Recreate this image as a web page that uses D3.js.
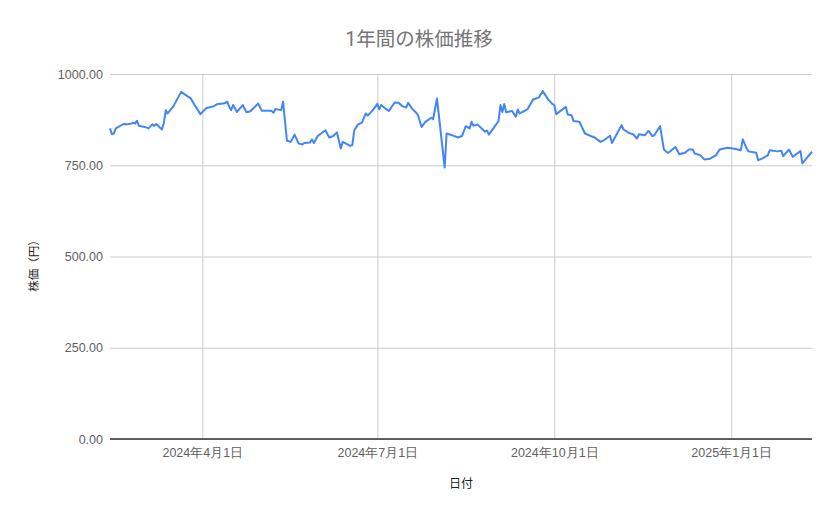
<!DOCTYPE html>
<html>
<head>
<meta charset="utf-8">
<script src="https://cdn.jsdelivr.net/npm/d3@7"></script>
<style>
	body { margin: 0; background: #ffffff; }
	svg { font-family: Roboto, "Noto Sans CJK JP", sans-serif; }
	.grid line { stroke: #cccccc; stroke-width: 1; }
	.grid path { display: none; }
	.tick-labels text { fill: #616161; }
</style>
</head>
<body>
<svg width="839" height="519"></svg>
<script>
// Chart data
const chart_title = "1年間の株価推移";
const x_title = "日付";
const y_title = "株価（円）";

const trade_dates = [
	"2024-02-13", "2024-02-14", "2024-02-15", "2024-02-16", "2024-02-20", "2024-02-22",
	"2024-02-25", "2024-02-26", "2024-02-27", "2024-02-28", "2024-03-02", "2024-03-04",
	"2024-03-06", "2024-03-07", "2024-03-08", "2024-03-11", "2024-03-12", "2024-03-13",
	"2024-03-14", "2024-03-17", "2024-03-21", "2024-03-24", "2024-03-26", "2024-03-28",
	"2024-03-31", "2024-04-03", "2024-04-07", "2024-04-09", "2024-04-12", "2024-04-14",
	"2024-04-15", "2024-04-16", "2024-04-17", "2024-04-19", "2024-04-22", "2024-04-24",
	"2024-04-26", "2024-04-30", "2024-05-02", "2024-05-07", "2024-05-08", "2024-05-09",
	"2024-05-12", "2024-05-13", "2024-05-15", "2024-05-17", "2024-05-19", "2024-05-21",
	"2024-05-23", "2024-05-24", "2024-05-27", "2024-05-28", "2024-05-29", "2024-05-31",
	"2024-06-04", "2024-06-06", "2024-06-08", "2024-06-10", "2024-06-12", "2024-06-13",
	"2024-06-17", "2024-06-18", "2024-06-19", "2024-06-21", "2024-06-23", "2024-06-25",
	"2024-06-26", "2024-06-29", "2024-07-01", "2024-07-02", "2024-07-03", "2024-07-05",
	"2024-07-07", "2024-07-10", "2024-07-12", "2024-07-14", "2024-07-16", "2024-07-17",
	"2024-07-19", "2024-07-22", "2024-07-24", "2024-07-26", "2024-07-29", "2024-07-30",
	"2024-08-01", "2024-08-05", "2024-08-06", "2024-08-09", "2024-08-12", "2024-08-14",
	"2024-08-16", "2024-08-18", "2024-08-19", "2024-08-20", "2024-08-22", "2024-08-26",
	"2024-08-27", "2024-08-28", "2024-09-02", "2024-09-03", "2024-09-04", "2024-09-05",
	"2024-09-06", "2024-09-09", "2024-09-11", "2024-09-12", "2024-09-13", "2024-09-17",
	"2024-09-20", "2024-09-23", "2024-09-25", "2024-09-28", "2024-09-30", "2024-10-01",
	"2024-10-02", "2024-10-07", "2024-10-08", "2024-10-10", "2024-10-11", "2024-10-14",
	"2024-10-17", "2024-10-20", "2024-10-22", "2024-10-25", "2024-10-27", "2024-10-30",
	"2024-10-31", "2024-11-05", "2024-11-06", "2024-11-09", "2024-11-11", "2024-11-13",
	"2024-11-14", "2024-11-17", "2024-11-19", "2024-11-21", "2024-11-22", "2024-11-25",
	"2024-11-27", "2024-11-29", "2024-11-30", "2024-12-03", "2024-12-05", "2024-12-08",
	"2024-12-10", "2024-12-12", "2024-12-13", "2024-12-16", "2024-12-18", "2024-12-21",
	"2024-12-24", "2024-12-26", "2024-12-30", "2025-01-02", "2025-01-06", "2025-01-07",
	"2025-01-09", "2025-01-10", "2025-01-14", "2025-01-15", "2025-01-17", "2025-01-20",
	"2025-01-21", "2025-01-25", "2025-01-27", "2025-01-28", "2025-01-31", "2025-02-02",
	"2025-02-06", "2025-02-07", "2025-02-09", "2025-02-12"
];

const close_prices = [
	851, 835, 837, 851, 863, 862,
	866, 864, 872, 858, 855, 851,
	862, 858, 863, 848, 866, 901,
	892, 912, 951, 940, 933, 915,
	890, 906, 912, 918, 919, 924,
	910, 901, 915, 896, 915, 895,
	898, 919, 899, 899, 894, 904,
	901, 924, 817, 814, 834, 810,
	807, 811, 812, 821, 811, 830,
	846, 826, 830, 840, 796, 814,
	803, 805, 846, 862, 867, 892,
	886, 903, 918, 903, 915, 906,
	899, 922, 921, 912, 908, 921,
	906, 889, 855, 869, 880, 876,
	933, 744, 837, 832, 826, 830,
	857, 851, 869, 858, 862, 842,
	845, 834, 871, 915, 896, 918,
	895, 899, 883, 903, 892, 903,
	930, 936, 953, 929, 918, 915,
	890, 910, 889, 887, 871, 869,
	837, 830, 826, 814, 819, 831,
	811, 860, 848, 838, 835, 823,
	835, 832, 844, 830, 832, 857,
	793, 784, 787, 800, 780, 784,
	793, 793, 782, 777, 766, 768,
	777, 793, 798, 796, 791, 821,
	796, 788, 784, 764, 768, 777,
	791, 788, 790, 775, 793, 773,
	789, 755, 768, 787
];

const y_ticks = [0, 250, 500, 750, 1000];
const x_ticks = ["2024-04-01", "2024-07-01", "2024-10-01", "2025-01-01"];

// Variable Declarations
const svg = d3.select("svg");
const margin = {top: 74, right: 27, bottom: 80, left: 110};
const width = 839 - margin.left - margin.right;
const height = 519 - margin.top - margin.bottom;
const parse_date = d3.timeParse("%Y-%m-%d");

const points = trade_dates.map(function(d, i){
	return {"date": parse_date(d), "price": close_prices[i]};
});

const x = d3.scaleTime()
	.domain(d3.extent(points, function(d){return d.date}))
	.range([0, width]);

const y = d3.scaleLinear()
	.domain([0, 1000])
	.range([height, 0]);

const plot = svg.append("g")
	.attr("transform", `translate(${margin.left},${margin.top})`);

draw_grid();
draw_line();
draw_labels();

/**
 * Horizontal and vertical gridlines plus the zero baseline
 */
function draw_grid(){
	plot.append("g")
		.attr("class", "grid")
		.call(d3.axisLeft(y).tickValues(y_ticks).tickSize(-width).tickFormat(""));

	plot.append("g")
		.attr("class", "grid")
		.attr("transform", `translate(0,${height})`)
		.call(d3.axisBottom(x).tickValues(x_ticks.map(parse_date)).tickSize(-height).tickFormat(""));

	plot.append("line")
		.attr("x1", 0)
		.attr("x2", width)
		.attr("y1", y(0))
		.attr("y2", y(0))
		.attr("stroke", "#333333")
		.attr("stroke-width", 1.3);
}

/**
 * Price line
 */
function draw_line(){
	let line = d3.line()
		.x(function(d){return x(d.date)})
		.y(function(d){return y(d.price)});

	plot.append("path")
		.datum(points)
		.attr("d", line)
		.attr("fill", "none")
		.attr("stroke", "#4285f4")
		.attr("stroke-width", 2)
		.attr("stroke-linejoin", "round");
}

/**
 * Tick labels and titles
 */
function draw_labels(){
	let y_axis = plot.append("g")
		.attr("class", "tick-labels")
		.call(d3.axisLeft(y).tickValues(y_ticks).tickSize(0).tickPadding(7)
			.tickFormat(function(d){return d3.format(".2f")(d)}));
	y_axis.select(".domain").remove();
	y_axis.selectAll("text").attr("font-size", 12.5).attr("font-family", null);

	let x_axis = plot.append("g")
		.attr("class", "tick-labels")
		.attr("transform", `translate(0,${height})`)
		.call(d3.axisBottom(x).tickValues(x_ticks.map(parse_date)).tickSize(0).tickPadding(9)
			.tickFormat(function(d){return `${d.getFullYear()}年${d.getMonth() + 1}月${d.getDate()}日`}));
	x_axis.select(".domain").remove();
	x_axis.selectAll("text").attr("font-size", 12.5).attr("font-family", null);

	svg.append("text")
		.attr("x", 419)
		.attr("y", 46)
		.attr("text-anchor", "middle")
		.attr("font-size", 19.5)
		.attr("fill", "#757575")
		.text(chart_title);

	svg.append("text")
		.attr("x", margin.left + width / 2)
		.attr("y", 488)
		.attr("text-anchor", "middle")
		.attr("font-size", 12)
		.attr("fill", "#222222")
		.text(x_title);

	svg.append("text")
		.attr("transform", "translate(38,263) rotate(-90)")
		.attr("text-anchor", "middle")
		.attr("font-size", 11.5)
		.attr("fill", "#222222")
		.text(y_title);
}
</script>
</body>
</html>
